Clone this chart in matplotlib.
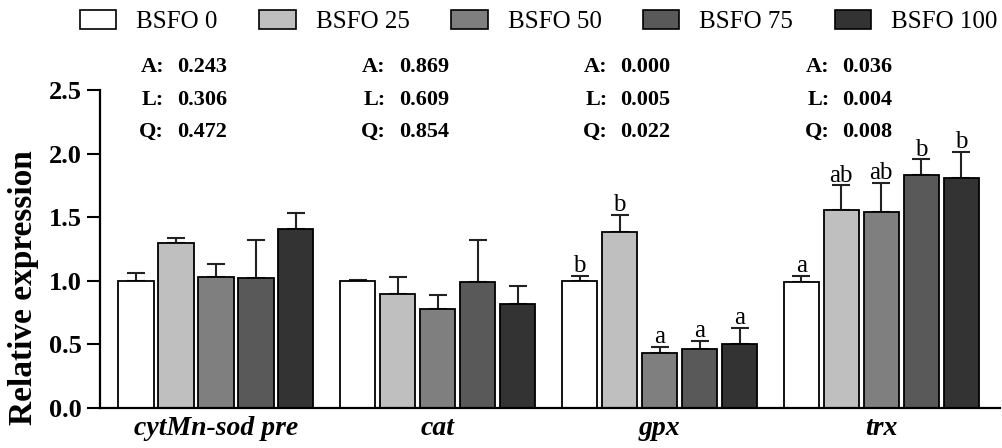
import numpy as np
import matplotlib
matplotlib.use('Agg')
import matplotlib.pyplot as plt
from matplotlib.patches import Patch

genes = ['cytMn-sod pre', 'cat', 'gpx', 'trx']
groups = ['BSFO 0', 'BSFO 25', 'BSFO 50', 'BSFO 75', 'BSFO 100']
colors = ['#ffffff', '#bfbfbf', '#7f7f7f', '#595959', '#333333']

# mean relative expression per group (rows) for each gene (columns)
means = [
    [1.00, 1.00, 1.00, 0.99],
    [1.30, 0.90, 1.38, 1.56],
    [1.03, 0.78, 0.43, 1.54],
    [1.02, 0.99, 0.46, 1.83],
    [1.41, 0.815, 0.50, 1.81],
]
errs = [
    [0.06, 0.01, 0.04, 0.05],
    [0.04, 0.13, 0.14, 0.19],
    [0.10, 0.11, 0.05, 0.23],
    [0.30, 0.33, 0.07, 0.125],
    [0.12, 0.145, 0.13, 0.205],
]
letters = [
    ['', '', 'b', 'a'],
    ['', '', 'b', 'ab'],
    ['', '', 'a', 'ab'],
    ['', '', 'a', 'b'],
    ['', '', 'a', 'b'],
]
stats_a = ['0.243', '0.869', '0.000', '0.036']
stats_l = ['0.306', '0.609', '0.005', '0.004']
stats_q = ['0.472', '0.854', '0.022', '0.008']

serif = 'Liberation Serif'
plt.rcParams['font.family'] = serif

fig = plt.figure(figsize=(10.02, 4.48), dpi=100)
ax = fig.add_axes([100 / 1002, 1 - 408 / 448, 900 / 1002, 318 / 448])

x = np.arange(len(genes))
step = 0.1803
width = 0.158
for i, grp in enumerate(groups):
    pos = x + (i - 2) * step
    ax.bar(pos, means[i], width=width, color=colors[i], edgecolor='black',
           linewidth=1.3, zorder=2)
    ax.errorbar(pos, means[i], yerr=[np.zeros(len(genes)), errs[i]], fmt='none',
                ecolor='#222222', elinewidth=1.5, capsize=6.5, capthick=1.5,
                zorder=1)
    for j in range(len(genes)):
        if letters[i][j]:
            ax.annotate(letters[i][j], (pos[j], means[i][j] + errs[i][j]),
                        xytext=(0, 2.5), textcoords='offset points',
                        ha='center', va='baseline', fontsize=18)

# A / L / Q p-values above each gene
for j in range(len(genes)):
    for lab, vals, yy in [('A:', stats_a, 2.642), ('L:', stats_l, 2.382),
                          ('Q:', stats_q, 2.130)]:
        ax.text(x[j] - 0.234, yy, lab, ha='right', va='baseline',
                fontsize=16, fontweight='bold', clip_on=False)
        ax.text(x[j] - 0.176, yy, vals[j], ha='left', va='baseline',
                fontsize=16, fontweight='bold', clip_on=False)

ax.set_xlim(-0.523, 3.535)
ax.set_ylim(0, 2.5)
ax.set_yticks([0, 0.5, 1.0, 1.5, 2.0, 2.5])
ax.set_yticklabels(['0.0', '0.5', '1.0', '1.5', '2.0', '2.5'],
                   fontsize=19, fontweight='bold')
ax.set_xticks(x)
ax.set_xticklabels(genes, fontsize=20, fontweight='bold', style='italic')
ax.tick_params(axis='x', length=0, pad=6)
ax.tick_params(axis='y', length=9.4, width=1.5, pad=4)
for s in ['top', 'right']:
    ax.spines[s].set_visible(False)
for s in ['left', 'bottom']:
    ax.spines[s].set_linewidth(1.6)

fig.text(24 / 1002, 1 - 288 / 448, 'Relative expression', rotation=90,
         ha='center', va='center', fontsize=24, fontweight='bold')

handles = [Patch(facecolor=c, edgecolor='black', linewidth=1.2) for c in colors]
fig.legend(handles, groups, loc='upper left', bbox_to_anchor=(70 / 1002, 1.0),
           ncol=5, frameon=False, fontsize=18, handlelength=1.45,
           handleheight=0.8, handletextpad=0.8, columnspacing=1.67,
           borderaxespad=0)

fig.savefig('out.png', dpi=100)
